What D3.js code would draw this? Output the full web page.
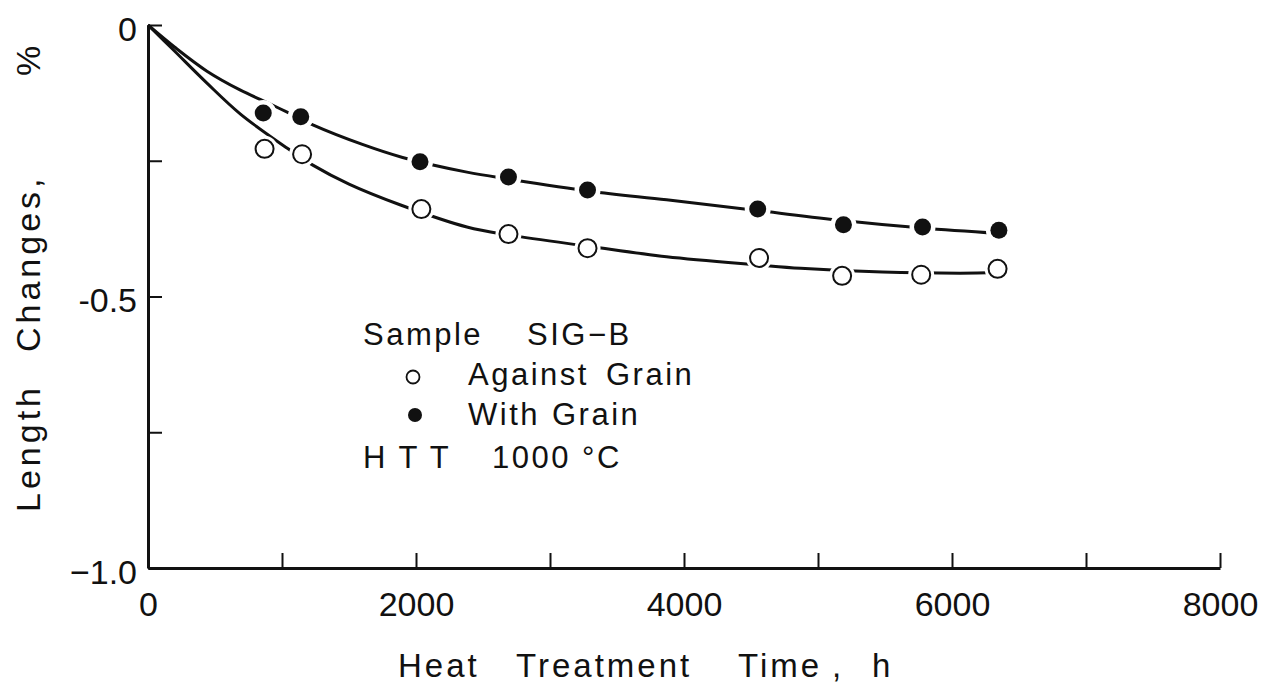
<!DOCTYPE html>
<html>
<head>
<meta charset="utf-8">
<script src="https://cdn.jsdelivr.net/npm/d3@7"></script>
<style>
  body { margin: 0; background: #fff; }
  text { font-family: "Liberation Sans", Arial, sans-serif; fill: #111; white-space: pre; }
</style>
</head>
<body>
<div id="chart"></div>
<script>
// measured points (hours, % length change)
const withTime  = [860, 1140, 2030, 2690, 3280, 4550, 5190, 5780, 6350];
const withVal   = [-0.162, -0.169, -0.252, -0.280, -0.304, -0.339, -0.368, -0.372, -0.378];
const againstTime = [870, 1150, 2040, 2690, 3280, 4560, 5180, 5770, 6340];
const againstVal  = [-0.228, -0.238, -0.339, -0.385, -0.411, -0.429, -0.462, -0.460, -0.449];

// hand-drawn fit curves
const withCurveT = [0, 200, 440, 690, 890, 1050, 1230, 1600, 1900, 2380, 2700, 3300, 3870, 4560, 5180, 5780, 6350];
const withCurveV = [0, -0.041, -0.085, -0.120, -0.143, -0.162, -0.184, -0.220, -0.244, -0.271, -0.284, -0.306, -0.322, -0.342, -0.360, -0.374, -0.384];
const againstCurveT = [0, 190, 440, 690, 1040, 1230, 1500, 1880, 2380, 2700, 3300, 3870, 4560, 4870, 5480, 6060, 6350];
const againstCurveV = [0, -0.046, -0.107, -0.164, -0.227, -0.258, -0.293, -0.331, -0.372, -0.387, -0.408, -0.427, -0.442, -0.448, -0.455, -0.457, -0.456];

const xTicks = [0, 1000, 2000, 3000, 4000, 5000, 6000, 7000, 8000];
const xLabels = ["0", "", "2000", "", "4000", "", "6000", "", "8000"];
const yTicks = [0, -0.25, -0.5, -0.75, -1.0];
const yLabels = ["0", "", "-0.5", "", "\u22121.0"];

// lettering: word, left edge (x) and baseline
const xTitle = [["Heat", 398], ["Treatment", 516], ["Time", 738], [",", 832], ["h", 872]];
const yTitle = [["Length", 512], ["Changes,", 352], ["%", 76]];
const legendWords = [
  ["Sample", 363, 345], ["SIG\u2212B", 527, 345],
  ["Against", 468, 385], ["Grain", 606, 385],
  ["With", 468, 425], ["Grain", 552, 425],
  ["H T T", 363, 468], ["1000 \u00B0C", 492, 468]
];

const width = 1281, height = 691;

const svg = d3.select("#chart")
  .append("svg")
  .attr("width", width)
  .attr("height", height);

const x = d3.scaleLinear().domain([0, 8000]).range([148, 1220]);
const y = d3.scaleLinear().domain([-1, 0]).range([568, 25]);

// x axis, ticks pointing up
const xAxis = svg.append("g")
  .attr("transform", `translate(0,${y(-1)})`)
  .call(d3.axisBottom(x).tickValues(xTicks)
    .tickFormat((d, i) => xLabels[i])
    .tickSizeInner(-15).tickSizeOuter(0).tickPadding(24));
xAxis.select(".domain").attr("stroke-width", 3).attr("stroke", "#111");
xAxis.selectAll(".tick line").attr("stroke-width", 2).attr("stroke", "#111");
xAxis.selectAll(".tick text").attr("font-size", 34).attr("font-family", "Liberation Sans").attr("fill", "#111");

// y axis, ticks pointing right
const yAxis = svg.append("g")
  .attr("transform", `translate(${x(0)},0)`)
  .call(d3.axisLeft(y).tickValues(yTicks)
    .tickFormat((d, i) => yLabels[i])
    .tickSizeInner(-14).tickSizeOuter(0).tickPadding(11));
yAxis.select(".domain").attr("stroke-width", 3).attr("stroke", "#111");
yAxis.selectAll(".tick line").attr("stroke-width", 2).attr("stroke", "#111");
yAxis.selectAll(".tick text").attr("font-size", 34).attr("font-family", "Liberation Sans")
  .attr("fill", "#111").attr("dy", "0.45em");

const line = d3.line()
  .x(d => x(d[0]))
  .y(d => y(d[1]))
  .curve(d3.curveCatmullRom.alpha(0.5));

svg.append("path")
  .datum(withCurveT.map((t, i) => [t, withCurveV[i]]))
  .attr("d", line)
  .attr("fill", "none").attr("stroke", "#111").attr("stroke-width", 3);

svg.append("path")
  .datum(againstCurveT.map((t, i) => [t, againstCurveV[i]]))
  .attr("d", line)
  .attr("fill", "none").attr("stroke", "#111").attr("stroke-width", 3);

const withPts = withTime.map((t, i) => [t, withVal[i]]);
const againstPts = againstTime.map((t, i) => [t, againstVal[i]]);

// white halo leaves the little gap around each marker
svg.append("g")
  .selectAll("circle")
  .data(withPts.concat(againstPts))
  .join("circle")
  .attr("cx", d => x(d[0]))
  .attr("cy", d => y(d[1]))
  .attr("r", 13)
  .attr("fill", "#fff");

svg.append("g")
  .selectAll("circle")
  .data(withPts)
  .join("circle")
  .attr("cx", d => x(d[0]))
  .attr("cy", d => y(d[1]))
  .attr("r", 8.5)
  .attr("fill", "#111");

svg.append("g")
  .selectAll("circle")
  .data(againstPts)
  .join("circle")
  .attr("cx", d => x(d[0]))
  .attr("cy", d => y(d[1]))
  .attr("r", 9)
  .attr("fill", "#fff")
  .attr("stroke", "#111")
  .attr("stroke-width", 2);

// axis titles
svg.append("g")
  .selectAll("text")
  .data(xTitle)
  .join("text")
  .attr("x", d => d[1]).attr("y", 677)
  .attr("font-size", 33)
  .attr("letter-spacing", 3)
  .text(d => d[0]);

svg.append("g")
  .attr("transform", "translate(40,0) rotate(-90)")
  .selectAll("text")
  .data(yTitle)
  .join("text")
  .attr("x", d => -d[1]).attr("y", 0)
  .attr("font-size", 34)
  .attr("letter-spacing", 4)
  .text(d => d[0]);

// legend block
const leg = svg.append("g");
leg.selectAll("text")
  .data(legendWords)
  .join("text")
  .attr("x", d => d[1]).attr("y", d => d[2])
  .attr("font-size", 31)
  .attr("letter-spacing", 2.5)
  .text(d => d[0]);
leg.append("circle").attr("cx", 413).attr("cy", 377).attr("r", 6.5)
  .attr("fill", "#fff").attr("stroke", "#111").attr("stroke-width", 1.8);
leg.append("circle").attr("cx", 415).attr("cy", 415).attr("r", 7).attr("fill", "#111");
</script>
</body>
</html>
